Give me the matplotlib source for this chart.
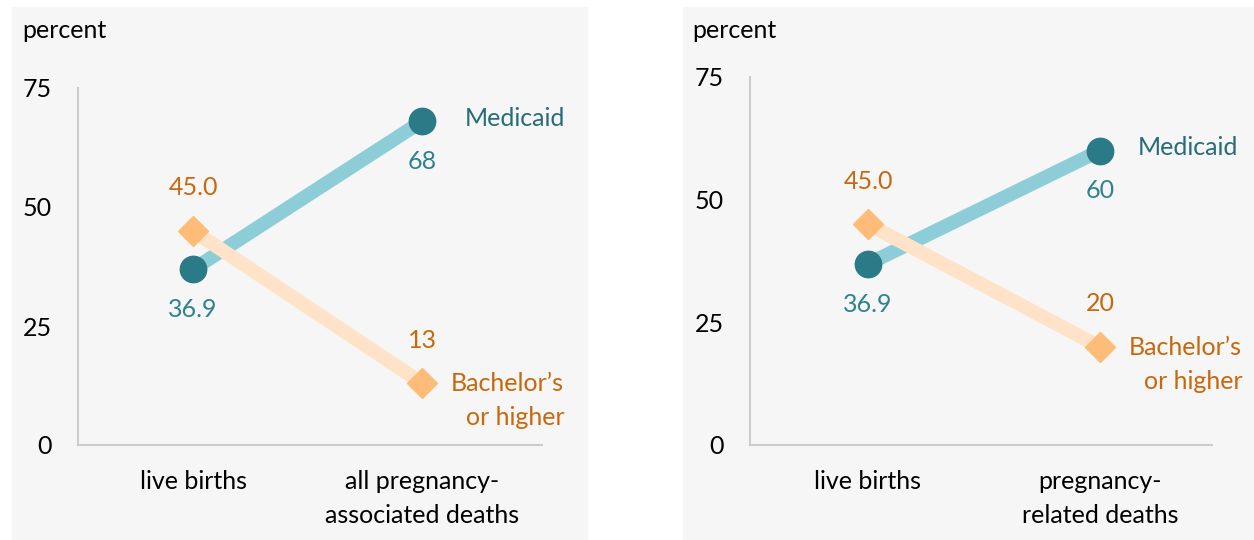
import matplotlib.pyplot as plt
from matplotlib.patches import Rectangle

plt.rcParams['font.family'] = ['Lato', 'DejaVu Sans']

cats_left = ['live births', 'all pregnancy-\nassociated deaths']
cats_right = ['live births', 'pregnancy-\nrelated deaths']
medicaid_left = [36.9, 68]
bachelor_left = [45.0, 13]
medicaid_right = [36.9, 60]
bachelor_right = [45.0, 20]
med_lbl_left = ['36.9', '68']
bach_lbl_left = ['45.0', '13']
med_lbl_right = ['36.9', '60']
bach_lbl_right = ['45.0', '20']
yticks = [0, 25, 50, 75]

W, H = 1254, 540
fig = plt.figure(figsize=(W / 100, H / 100), dpi=100)

teal = '#2b7a87'
teal_line = '#8ccdd8'
teal_txt = '#2f8290'
teal_name = '#276c78'
orange = '#ffbb78'
orange_line = '#ffe3c8'
orange_txt = '#c8680c'

# gray panel backgrounds
for x0, x1 in [(12, 587), (683, 1254)]:
    fig.patches.append(Rectangle((x0 / W, 0), (x1 - x0) / W, (H - 7) / H,
                                 transform=fig.transFigure, color='#f6f6f6', zorder=-10))


def panel(left, right, y0, y75, cx0, cx1, cats, med, bach, mlbl, blbl, pct_x, med_dx):
    ax = fig.add_axes([left / W, (H - y0) / H, (right - left) / W, (y0 - y75) / H])
    ax.set_facecolor('none')
    ax.set_zorder(1)
    ppu = cx1 - cx0
    a = -(cx0 - left) / ppu
    b = a + (right - left) / ppu
    ax.set_xlim(a, b)
    ax.set_ylim(0, 75)
    x = [0, 1]
    ax.plot(x, med, color=teal_line, lw=10, solid_capstyle='butt', zorder=2)
    ax.plot(x, bach, color=orange_line, lw=10, solid_capstyle='butt', zorder=3)
    ax.plot(x, med, 'o', color=teal, ms=19, zorder=4)
    ax.plot(x, bach, 'D', color=orange, ms=15, zorder=5)
    fs = 18
    for i in x:
        ax.annotate(mlbl[i], (i, med[i]), xytext=(0, -29), textcoords='offset points',
                    ha='center', va='center', color=teal_txt, fontsize=fs)
        ax.annotate(blbl[i], (i, bach[i]), xytext=(0, 31), textcoords='offset points',
                    ha='center', va='center', color=orange_txt, fontsize=fs)
    ax.annotate('Medicaid', (1, med[1]), xytext=(med_dx, 2), textcoords='offset points',
                ha='left', va='center', color=teal_name, fontsize=fs)
    ax.annotate('Bachelor\u2019s\nor higher', (1, bach[1]), xytext=(21, -12.5),
                textcoords='offset points', ha='left', va='center', multialignment='right',
                color=orange_txt, fontsize=fs, linespacing=1.6)
    ax.set_yticks(yticks)
    ax.set_xticks(x)
    ax.set_xticklabels(cats, fontsize=fs, linespacing=1.6, va='top')
    ax.tick_params(axis='y', length=0, pad=19, labelsize=fs)
    ax.tick_params(axis='x', length=0, pad=18)
    for s in ['top', 'right']:
        ax.spines[s].set_visible(False)
    for s in ['left', 'bottom']:
        ax.spines[s].set_color('#cccccc')
        ax.spines[s].set_linewidth(1.5)
    fig.text(pct_x / W, 1 - 30 / H, 'percent', fontsize=fs, ha='left', va='center')
    return ax


panel(78, 542, 445, 88, 193, 422, cats_left, medicaid_left, bachelor_left,
      med_lbl_left, bach_lbl_left, 22, 31)
panel(750, 1212, 445, 77, 868, 1100, cats_right, medicaid_right, bachelor_right,
      med_lbl_right, bach_lbl_right, 692, 27)

fig.savefig('out.png', dpi=100)
